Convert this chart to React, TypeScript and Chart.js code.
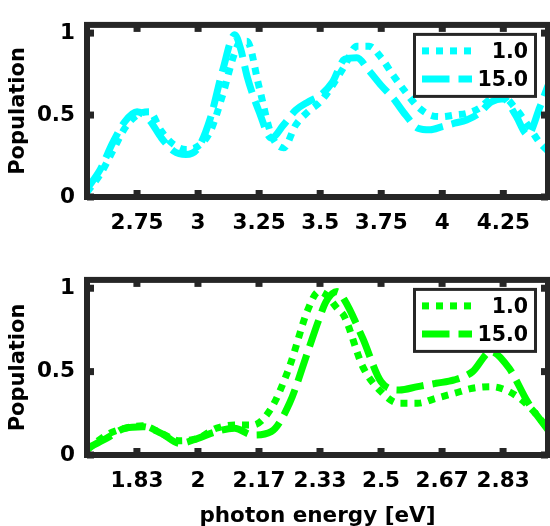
import React, { useEffect, useRef } from "react";
import { Chart, registerables } from "chart.js";

Chart.register(...registerables);

// ---------- data ----------
const SERIES_LABELS = ["1.0", "15.0"];
const Y_TICKS = [0, 0.5, 1];
const Y_TICK_LABELS = ["0", "0.5", "1"];
const Y_MAX = 1.05;

const TOP_X_MIN = 2.545;
const TOP_X_MAX = 4.433;
const TOP_X_TICKS = [2.75, 3, 3.25, 3.5, 3.75, 4, 4.25];
const TOP_X_TICK_LABELS = ["2.75", "3", "3.25", "3.5", "3.75", "4", "4.25"];
const TOP_ENERGY = [
  2.545, 2.6, 2.65, 2.7, 2.75, 2.8, 2.85, 2.9, 2.95, 3.0, 3.05, 3.1, 3.15, 3.175,
  3.2, 3.25, 3.3, 3.35, 3.4, 3.45, 3.5, 3.55, 3.6, 3.65, 3.7, 3.75, 3.8, 3.85,
  3.9, 3.95, 4.0, 4.05, 4.1, 4.15, 4.2, 4.25, 4.3, 4.35, 4.4, 4.433,
];
const TOP_POP_1 = [
  0.03, 0.14, 0.28, 0.42, 0.5, 0.52, 0.4, 0.32, 0.29, 0.31, 0.4, 0.62, 0.88, 0.95,
  0.95, 0.67, 0.38, 0.3, 0.44, 0.52, 0.58, 0.68, 0.8, 0.92, 0.92, 0.85, 0.74, 0.64,
  0.55, 0.5, 0.49, 0.5, 0.51, 0.54, 0.6, 0.61, 0.54, 0.44, 0.33, 0.28,
];
const TOP_POP_15 = [
  0.05, 0.17, 0.33, 0.46, 0.52, 0.47, 0.36, 0.28, 0.26, 0.3, 0.48, 0.77, 0.99, 0.9,
  0.74, 0.52, 0.36, 0.44, 0.53, 0.58, 0.62, 0.7, 0.84, 0.85, 0.77, 0.68, 0.6, 0.5,
  0.42, 0.41, 0.43, 0.45, 0.47, 0.51, 0.58, 0.6, 0.5, 0.38, 0.55, 0.68,
];

const BOTTOM_X_MIN = 1.697;
const BOTTOM_X_MAX = 2.956;
const BOTTOM_X_TICKS = [1.8333, 2, 2.1667, 2.3333, 2.5, 2.6667, 2.8333];
const BOTTOM_X_TICK_LABELS = ["1.83", "2", "2.17", "2.33", "2.5", "2.67", "2.83"];
const BOTTOM_ENERGY = [
  1.697, 1.75, 1.8, 1.85, 1.9, 1.95, 2.0, 2.05, 2.1, 2.15, 2.2, 2.25, 2.3, 2.33,
  2.35, 2.38, 2.4, 2.45, 2.5, 2.55, 2.6, 2.65, 2.7, 2.75, 2.8, 2.85, 2.9, 2.956,
];
const BOTTOM_POP_1 = [
  0.03, 0.12, 0.16, 0.175, 0.13, 0.085, 0.1, 0.16, 0.18, 0.18, 0.28, 0.53, 0.87, 0.98,
  0.96, 0.88, 0.83, 0.53, 0.38, 0.31, 0.31, 0.34, 0.37, 0.4, 0.41, 0.38, 0.3, 0.16,
];
const BOTTOM_POP_15 = [
  0.04, 0.1, 0.16, 0.17, 0.13, 0.07, 0.1, 0.14, 0.16, 0.12, 0.14, 0.31, 0.62, 0.81,
  0.92, 0.98, 0.93, 0.7, 0.44, 0.39, 0.41, 0.43, 0.45, 0.5, 0.62, 0.52, 0.32, 0.15,
];

// ---------- style ----------
const FRAME = "#262626";
const FONT = "'DejaVu Sans', sans-serif";
const DASHES = [
  [7, 7],
  [27.5, 9],
];

const framePlugin = {
  id: "frameAndLegend",
  afterDraw(chart: any) {
    const { ctx, chartArea: a, scales } = chart;
    ctx.save();
    // inward tick marks
    ctx.fillStyle = FRAME;
    const tw = 7;
    const tl = 7;
    scales.x.ticks.forEach((t: any) => {
      const px = scales.x.getPixelForValue(t.value);
      ctx.fillRect(px - tw / 2, a.top, tw, tl);
      ctx.fillRect(px - tw / 2, a.bottom - tl, tw, tl);
    });
    scales.y.ticks.forEach((t: any) => {
      const py = scales.y.getPixelForValue(t.value);
      ctx.fillRect(a.left, py - tw / 2, tl, tw);
      ctx.fillRect(a.right - tl, py - tw / 2, tl, tw);
    });
    // frame
    ctx.lineWidth = 6;
    ctx.strokeStyle = FRAME;
    ctx.strokeRect(a.left, a.top, a.right - a.left, a.bottom - a.top);

    // legend
    const bx = a.right - 133.5;
    const by = a.top + 9.5;
    const bw = 121;
    const bh = 62;
    ctx.fillStyle = "#fff";
    ctx.fillRect(bx, by, bw, bh);
    ctx.lineWidth = 3;
    ctx.strokeStyle = FRAME;
    ctx.strokeRect(bx, by, bw, bh);
    chart.data.datasets.forEach((ds: any, i: number) => {
      const y = a.top + 26 + i * 28;
      ctx.save();
      ctx.strokeStyle = ds.borderColor;
      ctx.lineWidth = ds.borderWidth;
      ctx.setLineDash(ds.borderDash);
      ctx.lineCap = "butt";
      ctx.beginPath();
      ctx.moveTo(a.right - 126, y);
      ctx.lineTo(a.right - 76, y);
      ctx.stroke();
      ctx.restore();
      ctx.fillStyle = "#000";
      ctx.font = `bold 20.5px ${FONT}`;
      ctx.textAlign = "right";
      ctx.textBaseline = "middle";
      ctx.fillText(ds.label, a.right - 20, y + 1.5);
    });
    ctx.restore();
  },
};

type PanelSpec = {
  energy: number[];
  series: number[][];
  color: string;
  xMin: number;
  xMax: number;
  xTicks: number[];
  xTickLabels: string[];
  padTop: number;
  xAxisHeight: number;
  xTitle?: string;
};

function makeChart(canvas: HTMLCanvasElement, p: PanelSpec) {
  const tickFont = { family: FONT, size: 21.5, weight: "bold" as const };
  const yTitleFont = { family: FONT, size: 21, weight: "bold" as const };
  return new Chart(canvas, {
    type: "line",
    data: {
      datasets: p.series.map((vals, i) => ({
        label: SERIES_LABELS[i],
        data: p.energy.map((e, k) => ({ x: e, y: vals[k] })),
        borderColor: p.color,
        backgroundColor: p.color,
        borderWidth: 7,
        borderDash: DASHES[i],
        borderCapStyle: "butt" as const,
        borderJoinStyle: "round" as const,
        pointRadius: 0,
        cubicInterpolationMode: "monotone" as const,
        fill: false,
      })),
    },
    options: {
      responsive: false,
      maintainAspectRatio: false,
      animation: false,
      devicePixelRatio: 1,
      layout: { padding: { top: p.padTop, right: 2, left: 0, bottom: 0 } },
      plugins: { legend: { display: false }, tooltip: { enabled: false } },
      scales: {
        x: {
          type: "linear",
          min: p.xMin,
          max: p.xMax,
          grid: { display: false, drawTicks: false },
          border: { display: false },
          afterBuildTicks: (s: any) => {
            s.ticks = p.xTicks.map((v) => ({ value: v }));
          },
          afterFit: (s: any) => {
            s.height = p.xAxisHeight;
          },
          ticks: {
            autoSkip: false,
            maxRotation: 0,
            minRotation: 0,
            padding: 14,
            color: "#000",
            font: tickFont,
            callback: (_v: any, idx: number) => p.xTickLabels[idx],
          },
          title: p.xTitle
            ? {
                display: true,
                text: p.xTitle,
                color: "#000",
                font: tickFont,
                padding: { top: 0, bottom: -3 },
              }
            : { display: false },
        },
        y: {
          type: "linear",
          min: 0,
          max: Y_MAX,
          grid: { display: false, drawTicks: false },
          border: { display: false },
          afterBuildTicks: (s: any) => {
            s.ticks = Y_TICKS.map((v) => ({ value: v }));
          },
          afterFit: (s: any) => {
            s.width = 87;
          },
          ticks: {
            padding: 12,
            color: "#000",
            font: tickFont,
            callback: (_v: any, idx: number) => Y_TICK_LABELS[idx],
          },
          title: {
            display: true,
            text: "Population",
            color: "#000",
            font: yTitleFont,
            padding: { top: 6, bottom: 0 },
          },
        },
      },
    },
    plugins: [framePlugin],
  });
}

export default function App() {
  const topRef = useRef<HTMLCanvasElement>(null);
  const botRef = useRef<HTMLCanvasElement>(null);

  useEffect(() => {
    const c1 = makeChart(topRef.current!, {
      energy: TOP_ENERGY,
      series: [TOP_POP_1, TOP_POP_15],
      color: "#00ffff",
      xMin: TOP_X_MIN,
      xMax: TOP_X_MAX,
      xTicks: TOP_X_TICKS,
      xTickLabels: TOP_X_TICK_LABELS,
      padTop: 10,
      xAxisHeight: 58,
    });
    const c2 = makeChart(botRef.current!, {
      energy: BOTTOM_ENERGY,
      series: [BOTTOM_POP_1, BOTTOM_POP_15],
      color: "#00ff00",
      xMin: BOTTOM_X_MIN,
      xMax: BOTTOM_X_MAX,
      xTicks: BOTTOM_X_TICKS,
      xTickLabels: BOTTOM_X_TICK_LABELS,
      padTop: 15,
      xAxisHeight: 71,
      xTitle: "photon energy [eV]",
    });
    return () => {
      c1.destroy();
      c2.destroy();
    };
  }, []);

  return (
    <div
      style={{
        position: "absolute",
        left: 0,
        top: 0,
        width: 550,
        height: 526,
        background: "#fff",
        overflow: "hidden",
      }}
    >
      <canvas
        ref={topRef}
        width={550}
        height={255}
        style={{ position: "absolute", left: 0, top: 0, width: 550, height: 255 }}
      />
      <canvas
        ref={botRef}
        width={550}
        height={271}
        style={{ position: "absolute", left: 0, top: 255, width: 550, height: 271 }}
      />
    </div>
  );
}
